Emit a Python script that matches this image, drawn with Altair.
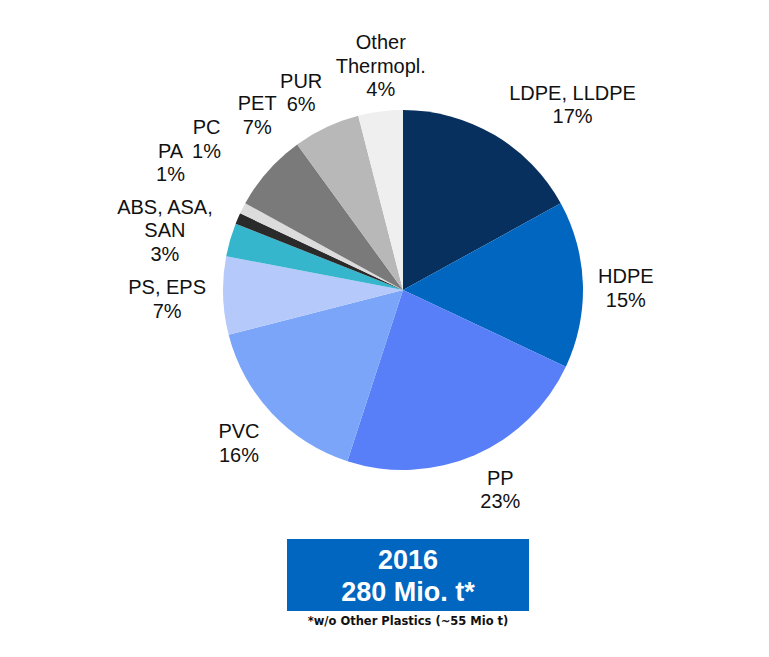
import altair as alt
import pandas as pd

# ---- data ----
categories = ["LDPE, LLDPE", "HDPE", "PP", "PVC", "PS, EPS", "ABS, ASA, SAN",
              "PA", "PC", "PET", "PUR", "Other Thermopl."]
label_names = ["LDPE, LLDPE", "HDPE", "PP", "PVC", "PS, EPS", "ABS, ASA,\nSAN",
               "PA", "PC", "PET", "PUR", "Other\nThermopl."]
shares = [17, 15, 23, 16, 7, 3, 1, 1, 7, 6, 4]
colors = ["#07305f", "#0066c0", "#587ff8", "#7aa5f8", "#b6c9fb", "#36b6cc",
          "#2a2a2a", "#dcdcdc", "#7a7a7a", "#b8b8b8", "#efefef"]
box_year = "2016"
box_total = "280 Mio. t*"
footnote = "*w/o Other Plastics (~55 Mio t)"

labels = [f"{n}\n{s}%" for n, s in zip(label_names, shares)]
df = pd.DataFrame({
    "idx": list(range(len(categories))),
    "category": categories,
    "share": shares,
    "label": labels,
})

# ---- layout / style ----
label_offsets = {
    "LDPE, LLDPE": (55, 9), "HDPE": (-2, 6), "PP": (8, -6), "PVC": (0, 0),
    "PS, EPS": (-11, 3), "ABS, ASA, SAN": (-22, 4), "PA": (-26, -37),
    "PC": (4, -48), "PET": (23, -25), "PUR": (-6, 7), "Other Thermopl.": (6, 0),
}
FONT = "Liberation Sans"
LH = 23.5

base = alt.Chart(df).encode(
    theta=alt.Theta("share:Q", stack=True),
    order=alt.Order("idx:Q"),
    detail="category:N",
)

pie = base.mark_arc(outerRadius=180).encode(
    color=alt.Color("category:N", scale=alt.Scale(domain=categories, range=colors), legend=None)
)

layers = [pie]
for cat, lab in zip(categories, labels):
    dx, dy = label_offsets[cat]
    nlines = lab.count("\n") + 1
    dy = dy - (nlines - 1) * LH / 2
    layers.append(
        base.transform_calculate(
            t=f"datum.category == '{cat}' ? datum.label : ''"
        ).mark_text(
            radius=225, font=FONT, fontSize=20, lineBreak="\n", lineHeight=LH,
            color="#111111", dx=dx, dy=dy, align="center", baseline="middle",
        ).encode(text="t:N")
    )

one = pd.DataFrame({"k": [0]})
box = alt.Chart(one).mark_rect(color="#0066c0").encode(
    x=alt.value(184), x2=alt.value(426), y=alt.value(529), y2=alt.value(601)
)
year_txt = alt.Chart(one).mark_text(
    font=FONT, fontSize=27, fontWeight="bold", color="white", align="center", baseline="middle"
).encode(x=alt.value(305), y=alt.value(551), text=alt.value(box_year))
total_txt = alt.Chart(one).mark_text(
    font=FONT, fontSize=27, fontWeight="bold", color="white", align="center", baseline="middle"
).encode(x=alt.value(305), y=alt.value(583), text=alt.value(box_total))
foot_txt = alt.Chart(one).mark_text(
    font="DejaVu Sans", fontSize=11.5, fontWeight="bold", color="#111111", align="center", baseline="middle"
).encode(x=alt.value(305), y=alt.value(612), text=alt.value(footnote))

chart = alt.layer(*layers, box, year_txt, total_txt, foot_txt).properties(
    width=600, height=560,
    padding={"left": 95, "top": 2, "right": 58, "bottom": 79},
    autosize="none",
).configure_view(stroke=None)

chart.save("out.html", embed_options={"renderer": "svg", "actions": False})
